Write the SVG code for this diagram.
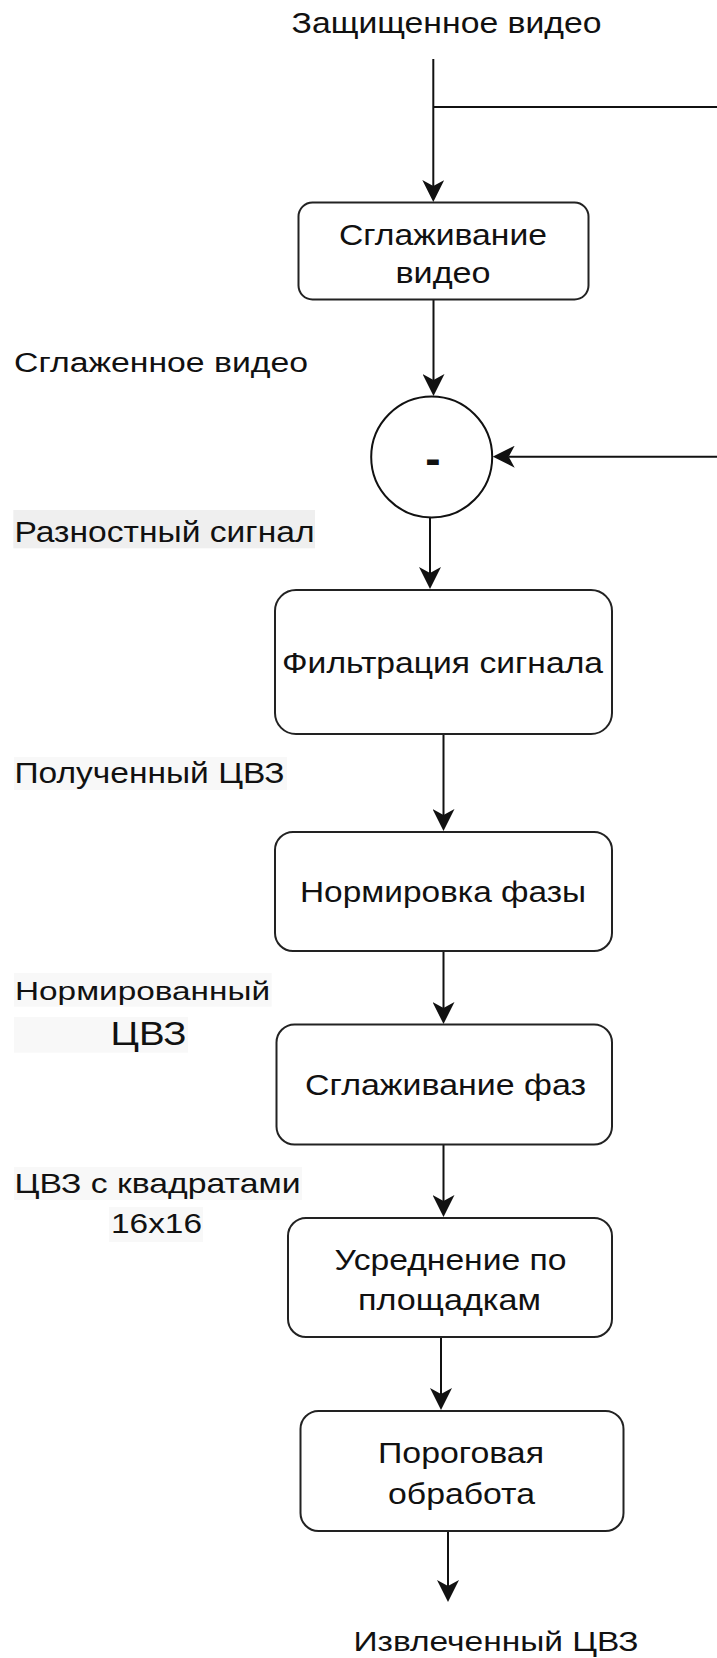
<svg xmlns="http://www.w3.org/2000/svg" width="717" height="1658" viewBox="0 0 717 1658">
<style>
text { font-family: "Liberation Sans", Arial, sans-serif; font-size: 30px; fill: #111; }
.box { fill: #fff; stroke: #222; stroke-width: 2; }
.ln { fill: none; stroke: #111; stroke-width: 2; }
.bg1 { fill: #efefef; }
.bg2 { fill: #f8f8f8; }
</style>
<defs>
<marker id="arr" viewBox="0 0 22 22" refX="6" refY="11" markerWidth="22" markerHeight="22" markerUnits="userSpaceOnUse" orient="auto">
<path d="M0,0 L22,11 L0,22 L6,11 Z" fill="#111"/>
</marker>
</defs>
<rect width="717" height="1658" fill="#fff"/>

<g id="connectors">
<path class="ln" d="M433.3,59 V186" marker-end="url(#arr)"/>
<path class="ln" d="M433.3,107 H717"/>
<path class="ln" d="M433.5,300 V380" marker-end="url(#arr)"/>
<path class="ln" d="M717,456.7 H508.7" marker-end="url(#arr)"/>
<path class="ln" d="M430,518 V573" marker-end="url(#arr)"/>
<path class="ln" d="M443.5,735 V815" marker-end="url(#arr)"/>
<path class="ln" d="M443.5,952 V1008" marker-end="url(#arr)"/>
<path class="ln" d="M443.5,1145 V1201" marker-end="url(#arr)"/>
<path class="ln" d="M441,1338 V1394" marker-end="url(#arr)"/>
<path class="ln" d="M448,1532 V1586" marker-end="url(#arr)"/>
</g>

<g id="input-label">
<text x="291.5" y="33.3" textLength="310" lengthAdjust="spacingAndGlyphs">Защищенное видео</text>
</g>

<g id="smooth-video">
<rect class="box" x="298.5" y="202.5" width="290" height="97" rx="14"/>
<text x="339" y="245" textLength="208" lengthAdjust="spacingAndGlyphs">Сглаживание</text>
<text x="395.5" y="283" textLength="95" lengthAdjust="spacingAndGlyphs">видео</text>
</g>

<g id="label-smoothed">
<text x="14" y="371.7" textLength="294" lengthAdjust="spacingAndGlyphs" style="font-size:27px">Сглаженное видео</text>
</g>

<g id="subtract">
<circle cx="431.7" cy="457" r="60.5" fill="#fff" stroke="#111" stroke-width="2"/>
<text x="433" y="474" text-anchor="middle" style="font-weight:bold;font-size:46px">-</text>
</g>

<g id="label-diff">
<rect class="bg1" x="13.3" y="510" width="301.7" height="38.3"/>
<text x="14.5" y="541.7" textLength="300" lengthAdjust="spacingAndGlyphs">Разностный сигнал</text>
</g>

<g id="filter">
<rect class="box" x="275" y="590" width="337" height="144" rx="21"/>
<text x="282" y="673" textLength="321" lengthAdjust="spacingAndGlyphs">Фильтрация сигнала</text>
</g>

<g id="label-received">
<rect class="bg2" x="14" y="757" width="273" height="33"/>
<text x="14.5" y="783" textLength="270" lengthAdjust="spacingAndGlyphs" style="font-size:29px">Полученный ЦВЗ</text>
</g>

<g id="norm-phase">
<rect class="box" x="275" y="832" width="337" height="119" rx="18"/>
<text x="300" y="901.7" textLength="286" lengthAdjust="spacingAndGlyphs">Нормировка фазы</text>
</g>

<g id="label-normed">
<rect class="bg2" x="14" y="973" width="257.7" height="33.7"/>
<text x="15" y="1000" textLength="255" lengthAdjust="spacingAndGlyphs" style="font-size:26.5px">Нормированный</text>
<rect class="bg2" x="14" y="1017" width="174" height="35.7"/>
<text x="110.5" y="1045" textLength="76" lengthAdjust="spacingAndGlyphs" style="font-size:33px">ЦВЗ</text>
</g>

<g id="smooth-phase">
<rect class="box" x="276.5" y="1024.5" width="335.5" height="120" rx="18"/>
<text x="305" y="1095" textLength="281" lengthAdjust="spacingAndGlyphs">Сглаживание фаз</text>
</g>

<g id="label-squares">
<rect class="bg2" x="14" y="1167" width="288" height="33"/>
<text x="14.5" y="1193" textLength="286" lengthAdjust="spacingAndGlyphs" style="font-size:27.5px">ЦВЗ с квадратами</text>
<rect class="bg2" x="109" y="1207" width="94" height="35"/>
<text x="111" y="1233" textLength="91" lengthAdjust="spacingAndGlyphs" style="font-size:28px">16x16</text>
</g>

<g id="average">
<rect class="box" x="288" y="1218" width="324" height="119" rx="18"/>
<text x="334.5" y="1270" textLength="232" lengthAdjust="spacingAndGlyphs">Усреднение по</text>
<text x="358" y="1310" textLength="183" lengthAdjust="spacingAndGlyphs">площадкам</text>
</g>

<g id="threshold">
<rect class="box" x="300.5" y="1411" width="323" height="120" rx="18"/>
<text x="378" y="1463" textLength="166" lengthAdjust="spacingAndGlyphs">Пороговая</text>
<text x="388" y="1504" textLength="147" lengthAdjust="spacingAndGlyphs">обработа</text>
</g>

<g id="output-label">
<text x="353.5" y="1651" textLength="285" lengthAdjust="spacingAndGlyphs" style="font-size:27px">Извлеченный ЦВЗ</text>
</g>
</svg>
